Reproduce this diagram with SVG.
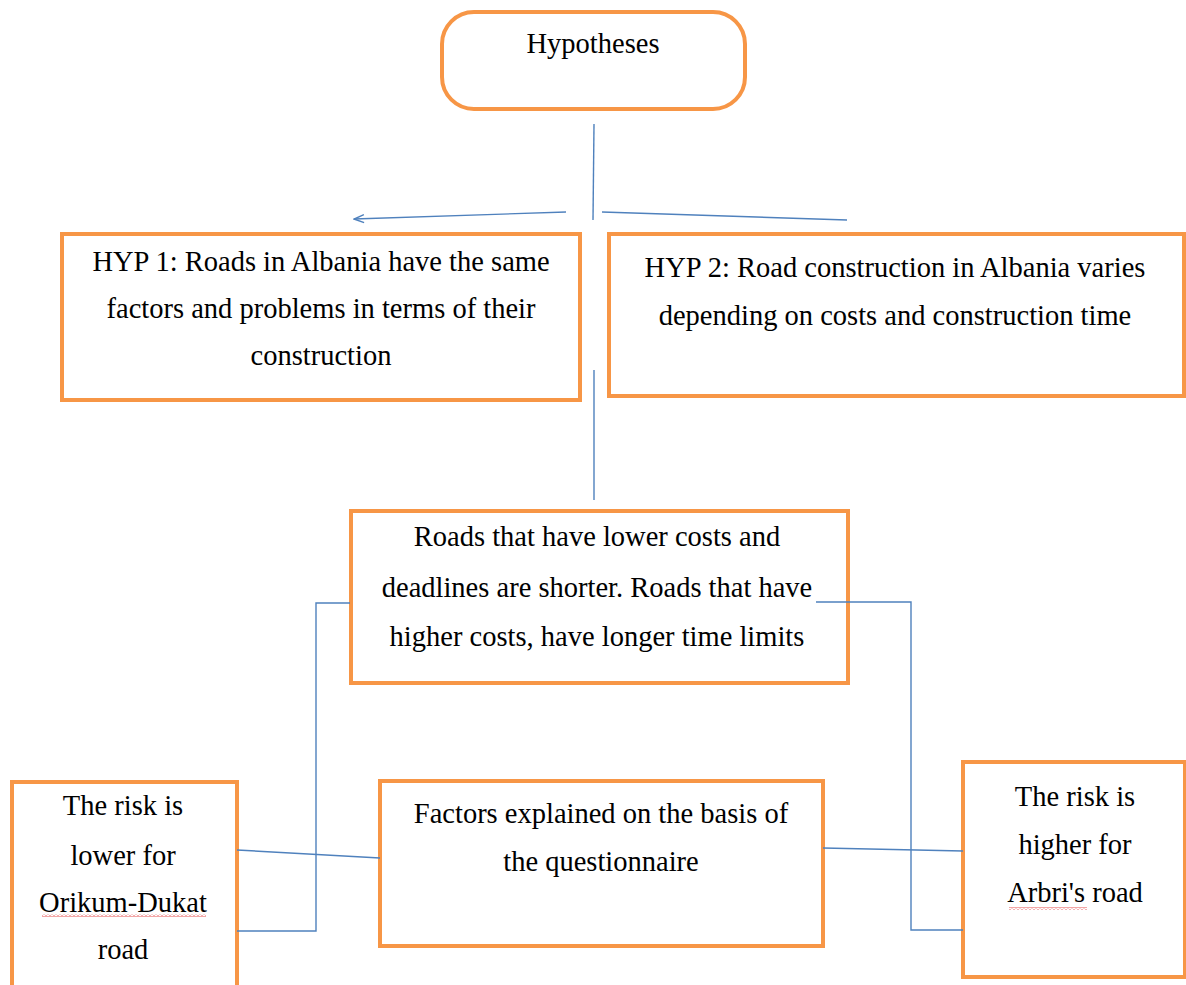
<svg xmlns="http://www.w3.org/2000/svg" width="1186" height="985" viewBox="0 0 1186 985">
<style>
.box{fill:#fff;stroke:#F79646;stroke-width:4}
.t{font-family:'Liberation Serif','DejaVu Serif',serif;font-size:28.5px;fill:#000;text-anchor:middle}
.c{fill:none;stroke:#4F81BD;stroke-width:1.4}
</style>
<defs>
<marker id="ah" markerWidth="12" markerHeight="10" refX="11" refY="5" orient="auto" markerUnits="userSpaceOnUse">
<path d="M1 1 L11 5 L1 9" fill="none" stroke="#4F81BD" stroke-width="1.4"/>
</marker>
<pattern id="wave" width="4" height="3" patternUnits="userSpaceOnUse">
<path d="M0 2.5 L2 0.5 L4 2.5" fill="none" stroke="#E02020" stroke-width="0.8"/>
</pattern>
</defs>
<rect width="1186" height="985" fill="#fff"/>
<g id="hypotheses">
<rect class="box" x="442" y="12" width="303" height="97" rx="32" ry="32"/>
<text class="t" x="593" y="53">Hypotheses</text>
</g>
<g id="hyp1">
<rect class="box" x="62" y="234" width="518" height="166"/>
<text class="t" x="321" y="271">HYP 1: Roads in Albania have the same</text>
<text class="t" x="321" y="318">factors and problems in terms of their</text>
<text class="t" x="321" y="365">construction</text>
</g>
<g id="hyp2">
<rect class="box" x="609" y="234" width="575" height="162"/>
<text class="t" x="895" y="277">HYP 2: Road construction in Albania varies</text>
<text class="t" x="895" y="325">depending on costs and construction time</text>
</g>
<g id="roads">
<rect class="box" x="351" y="511" width="497" height="172"/>
<text class="t" x="597" y="546">Roads that have lower costs and</text>
<text class="t" x="597" y="597">deadlines are shorter. Roads that have</text>
<text class="t" x="597" y="646">higher costs, have longer time limits</text>
</g>
<g id="factors">
<rect class="box" x="380" y="781" width="443" height="165"/>
<text class="t" x="601" y="823">Factors explained on the basis of</text>
<text class="t" x="601" y="871">the questionnaire</text>
</g>
<g id="lower">
<rect class="box" x="12" y="782" width="225" height="210"/>
<text class="t" x="123" y="815">The risk is</text>
<text class="t" x="123" y="865">lower for</text>
<text class="t" x="123" y="912">Orikum-Dukat</text>
<rect x="42" y="914" width="164" height="3" fill="url(#wave)"/>
<text class="t" x="123" y="959">road</text>
</g>
<g id="higher">
<rect class="box" x="963" y="762" width="222" height="215"/>
<text class="t" x="1075" y="806">The risk is</text>
<text class="t" x="1075" y="854">higher for</text>
<text class="t" x="1075" y="902">Arbri's road</text>
<rect x="1009" y="907" width="78" height="3" fill="url(#wave)"/>
</g>
<g id="connectors">
<line class="c" x1="594" y1="124" x2="593" y2="220"/>
<line class="c" x1="566" y1="212" x2="354" y2="219" marker-end="url(#ah)"/>
<line class="c" x1="602" y1="212" x2="847" y2="220"/>
<line class="c" x1="594" y1="370" x2="594" y2="500"/>
<polyline class="c" points="350,603 316,603 316,931 237,931"/>
<line class="c" x1="237" y1="850" x2="380" y2="858"/>
<polyline class="c" points="816,602 911,602 911,930 963,930"/>
<line class="c" x1="823" y1="848" x2="963" y2="851"/>
</g>
</svg>
